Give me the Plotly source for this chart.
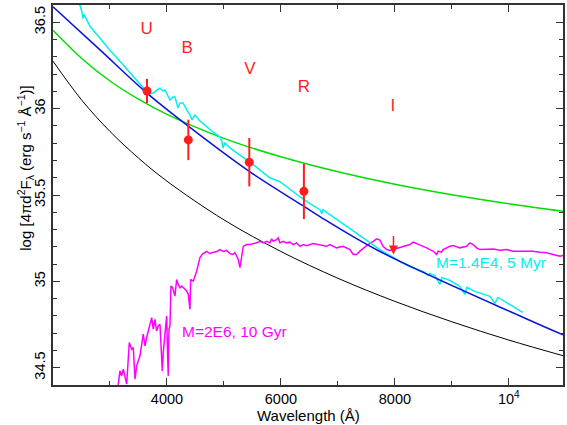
import plotly.graph_objects as go

# ---------------- data ----------------
# smooth model curves (wavelength in A, log of 4 pi d^2 F_lambda)
black_lam = [2000, 2500, 3000, 3500, 4000, 5000, 6000, 7000, 8000, 9000, 10000, 11000]
black_val = [36.275, 36.051, 35.868, 35.714, 35.580, 35.356, 35.173, 35.018, 34.884, 34.766, 34.660, 34.565]

green_lam = [2000, 2500, 3000, 3500, 4000, 5000, 6000, 7000, 8000, 9000, 10000, 11000]
green_val = [36.454, 36.292, 36.160, 36.055, 35.967, 35.828, 35.721, 35.634, 35.562, 35.501, 35.449, 35.403]

blue_lam = [2000, 2825, 3649, 4369, 5456, 6386, 6684, 7737, 10246, 10950]
blue_val = [36.59, 36.34, 36.09, 35.90, 35.634, 35.438, 35.375, 35.173, 34.792, 34.69]

# young cluster spectrum (cyan)
cyan_lam = [2404, 2474, 2509, 2526, 2544, 2649, 2825, 3000, 3175, 3351, 3526, 3649, 3702, 3754,
            3825, 3877, 3930, 3965, 4018, 4053, 4105, 4140, 4175, 4193, 4228, 4281, 4351, 4404,
            4439, 4491, 4579, 4702, 4807, 4930, 4965, 4982, 5018, 5105, 5281, 5404, 5544, 5667,
            5807, 5982, 6158, 6333, 6509, 6684, 6719, 6737, 6860, 7035, 7211, 7386, 7561, 7737,
            7912, 8088, 8263, 8439, 8526, 8579, 8614, 8702, 8789, 8825, 8965, 9140, 9228, 9263,
            9404, 9667, 9754, 9807, 10018, 10246]
cyan_val = [36.644, 36.598, 36.558, 36.523, 36.546, 36.477, 36.408, 36.338, 36.275, 36.206, 36.142,
            36.096, 36.085, 36.090, 36.108, 36.119, 36.102, 36.108, 36.073, 36.050, 36.067, 36.067,
            36.027, 36.004, 36.033, 36.033, 35.992, 35.963, 35.935, 35.963, 35.929, 35.894, 35.865,
            35.836, 35.808, 35.773, 35.802, 35.773, 35.733, 35.704, 35.669, 35.635, 35.600, 35.577,
            35.531, 35.490, 35.450, 35.415, 35.392, 35.415, 35.386, 35.346, 35.306, 35.265, 35.225,
            35.184, 35.150, 35.115, 35.086, 35.063, 35.052, 35.034, 35.046, 35.034, 34.982, 35.023,
            35.005, 34.971, 34.925, 34.965, 34.942, 34.913, 34.873, 34.907, 34.867, 34.821]

# old cluster spectrum (magenta)
mag_lam = [3123, 3146, 3175, 3205, 3233, 3263, 3293, 3339, 3381, 3409, 3439, 3468, 3526, 3584,
           3614, 3644, 3732, 3760, 3789, 3819, 3847, 3877, 3918, 3935, 3965, 3995, 4012, 4023,
           4035, 4053, 4070, 4100, 4140, 4170, 4198, 4228, 4258, 4346, 4374, 4404, 4416, 4461,
           4491, 4521, 4579, 4632, 4697, 4754, 4812, 4877, 4930, 4988, 5047, 5105, 5163, 5193,
           5251, 5281, 5311, 5339, 5398, 5456, 5574, 5632, 5690, 5749, 5807, 5837, 5865, 5925,
           5953, 5982, 6040, 6100, 6158, 6216, 6275, 6333, 6391, 6451, 6567, 6684, 6802, 6860,
           6977, 7093, 7211, 7268, 7328, 7386, 7504, 7619, 7679, 7737, 7795, 7855, 7912, 7970,
           8030, 8088, 8146, 8263, 8321, 8381, 8439, 8556, 8614, 8672, 8732, 8760, 8819, 8847,
           8907, 8965, 9023, 9140, 9258, 9316, 9374, 9433, 9491, 9609, 9725, 9842, 9960, 10076,
           10193, 10311, 10426, 10544, 10661, 10777, 10895, 10953]
mag_val = [34.365, 34.405, 34.482, 34.453, 34.492, 34.444, 34.405, 34.646, 34.607, 34.617, 34.434,
           34.511, 34.569, 34.694, 34.626, 34.675, 34.790, 34.723, 34.780, 34.713, 34.742, 34.752,
           34.482, 34.588, 34.704, 34.800, 34.559, 34.453, 34.723, 34.742, 34.973, 34.963, 34.915,
           35.011, 34.982, 34.963, 34.973, 34.944, 34.925, 34.838, 35.011, 35.001, 35.030, 35.059,
           35.138, 35.161, 35.173, 35.161, 35.169, 35.173, 35.184, 35.173, 35.179, 35.161, 35.156,
           35.167, 35.127, 35.079, 35.144, 35.202, 35.213, 35.213, 35.223, 35.232, 35.223, 35.232,
           35.223, 35.246, 35.232, 35.242, 35.252, 35.223, 35.232, 35.223, 35.227, 35.213, 35.223,
           35.203, 35.213, 35.207, 35.219, 35.213, 35.203, 35.213, 35.194, 35.203, 35.184, 35.156,
           35.156, 35.175, 35.207, 35.232, 35.246, 35.239, 35.202, 35.184, 35.179, 35.184, 35.190,
           35.196, 35.203, 35.213, 35.227, 35.219, 35.213, 35.194, 35.184, 35.175, 35.156, 35.175,
           35.169, 35.184, 35.194, 35.203, 35.207, 35.194, 35.203, 35.223, 35.213, 35.194, 35.184,
           35.184, 35.187, 35.180, 35.184, 35.175, 35.175, 35.179, 35.175, 35.169, 35.165, 35.156,
           35.146, 35.150]

# photometry
bands = ["U", "B", "V", "R"]
band_lam = [3650, 4375, 5445, 6403]
band_val = [36.102, 35.819, 35.690, 35.521]
band_err = [0.07, 0.117, 0.14, 0.16]
# I band upper limit
i_lam = 7975
i_top = 35.271
i_lim = 35.156

# band letters
letters = ["U", "B", "V", "R", "I"]
letter_lam = [3645, 4356, 5456, 6404, 7965]
letter_val = [36.454, 36.348, 36.227, 36.123, 36.01]

RED = "#ff1e1e"
FONT = "Liberation Sans, Arial, sans-serif"

fig = go.Figure()

fig.add_trace(go.Scatter(x=black_lam, y=black_val, mode="lines", line=dict(color="black", width=1, shape="spline")))
fig.add_trace(go.Scatter(x=green_lam, y=green_val, mode="lines", line=dict(color="#00dd00", width=1.5, shape="spline")))
fig.add_trace(go.Scatter(x=mag_lam, y=mag_val, mode="lines", line=dict(color="#ff00ff", width=1.5)))
fig.add_trace(go.Scatter(x=cyan_lam, y=cyan_val, mode="lines", line=dict(color="#00f0f0", width=1.5)))
fig.add_trace(go.Scatter(x=blue_lam, y=blue_val, mode="lines", line=dict(color="#0a14d8", width=1.5, shape="spline")))

fig.add_trace(go.Scatter(
    x=band_lam, y=band_val, mode="markers",
    marker=dict(color=RED, size=9),
    error_y=dict(type="data", array=band_err, color=RED, thickness=2, width=0),
))

# upper limit arrow for I
fig.add_annotation(x=i_lam, y=i_lim, ax=i_lam, ay=i_top, xref="x", yref="y", axref="x", ayref="y",
                   text="", showarrow=True, arrowhead=2, arrowsize=1.2, arrowwidth=1.5, arrowcolor=RED)

fig.add_trace(go.Scatter(
    x=letter_lam, y=letter_val, mode="text", text=letters,
    textfont=dict(color=RED, size=17, family=FONT),
))

fig.add_annotation(x=9684, y=35.108, xref="x", yref="y", text="M=1.4E4, 5 Myr", showarrow=False,
                   font=dict(color="#00f0f0", size=15.5, family=FONT))
fig.add_annotation(x=5193, y=34.711, xref="x", yref="y", text="M=2E6, 10 Gyr", showarrow=False,
                   font=dict(color="#ff00ff", size=15.5, family=FONT))

# axis titles as annotations so they sit where the reference has them
fig.add_annotation(x=-0.08, y=0.571, xref="paper", yref="paper", textangle=-90, showarrow=False,
                   text="log [4πd<sup>2</sup>F<sub>λ</sub> (erg s<sup>−1</sup> Å<sup>−1</sup>)]",
                   font=dict(size=15, color="black", family=FONT))
fig.add_annotation(x=0.5, y=-0.081, xref="paper", yref="paper", showarrow=False, yanchor="middle",
                   text="Wavelength (Å)", font=dict(size=15, color="black", family=FONT))

axis_common = dict(
    showline=True, linecolor="#333333", linewidth=1.5, mirror="allticks",
    ticks="inside", ticklen=7, tickwidth=1, tickcolor="#333333",
    showgrid=False, zeroline=False, automargin=False,
    tickfont=dict(size=14.5, color="black", family=FONT),
)

fig.update_xaxes(
    range=[2000, 10950], tickvals=[4000, 6000, 8000, 10000],
    ticktext=["4000", "6000", "8000", "10<sup>4</sup>"],
    minor=dict(tickvals=[3000, 5000, 7000, 9000], ticks="inside", ticklen=4, tickcolor="#333333"),
    **axis_common,
)
fig.update_yaxes(
    range=[34.4, 36.6], tickvals=[34.5, 35, 35.5, 36, 36.5], tickangle=-90,
    minor=dict(dtick=0.1, ticks="inside", ticklen=4, tickcolor="#333333"),
    **axis_common,
)

fig.update_layout(
    width=567, height=425,
    margin=dict(l=53, r=4, t=5, b=40),
    plot_bgcolor="white", paper_bgcolor="white",
    showlegend=False,
    font=dict(family=FONT),
)

# drop the page's default body margin so the figure fills the window
fig.write_html("out.html", config={"displayModeBar": False},
               post_script="document.body.style.margin='0px';document.body.style.overflow='hidden';")
